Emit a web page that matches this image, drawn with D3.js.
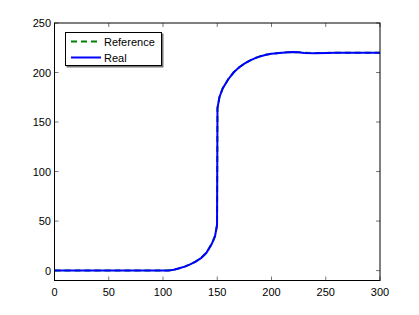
<!DOCTYPE html>
<html>
<head>
<meta charset="utf-8">
<script src="https://cdn.jsdelivr.net/npm/d3@7"></script>
<style>
  body { margin: 0; background: #fff; }
  svg text { font-family: "Liberation Sans", Arial, sans-serif; font-size: 11px; fill: #000; }
</style>
</head>
<body>
<div id="chart"></div>
<script>
// Data
const xValues = [0, 50, 100, 105, 110, 115, 120, 125, 130, 135, 140, 145, 148, 149.8, 150.2, 152, 155, 160, 165, 170, 175, 180, 185, 190, 195, 200, 210, 215, 220, 225, 230, 240, 250, 260, 300];
const realValues = [0, 0, 0, 0, 0.8, 2.3, 4, 6.2, 9, 12.5, 18, 27, 35, 46, 164, 175, 184, 193, 200, 205, 209, 212, 214.5, 216.5, 218, 219, 220, 220.5, 220.8, 220.5, 219.8, 219.5, 219.8, 220, 220];
const referenceValues = [0, 0, 0, 0, 0.8, 2.3, 4, 6.2, 9, 12.5, 18, 27, 35, 46, 164, 175, 184, 193, 200, 205, 209, 212, 214.5, 216.5, 218, 219, 220, 220.4, 220.6, 220.4, 219.9, 219.6, 219.8, 220, 220];
const xTicks = [0, 50, 100, 150, 200, 250, 300];
const yTicks = [0, 50, 100, 150, 200, 250];
const legendLabels = ["Reference", "Real"];

const width = 419, height = 315;
const plotLeft = 54.5, plotRight = 380, plotTop = 23, plotBottom = 280.5;

const x = d3.scaleLinear().domain([0, 300]).range([plotLeft, plotRight]);
const y = d3.scaleLinear().domain([-10, 250]).range([plotBottom, plotTop]);

const svg = d3.select("#chart").append("svg")
    .attr("width", width)
    .attr("height", height);

// Tick marks on all four sides, pointing inwards
const tickLen = 4;
const tickColor = "#777";
xTicks.forEach(t => {
  svg.append("line").attr("x1", x(t)).attr("x2", x(t)).attr("y1", plotBottom).attr("y2", plotBottom - tickLen)
    .attr("stroke", tickColor);
  svg.append("line").attr("x1", x(t)).attr("x2", x(t)).attr("y1", plotTop).attr("y2", plotTop + tickLen)
    .attr("stroke", tickColor);
  svg.append("text").attr("x", x(t)).attr("y", plotBottom + 15.5)
    .attr("text-anchor", "middle").text(t);
});
yTicks.forEach(t => {
  svg.append("line").attr("x1", plotLeft).attr("x2", plotLeft + tickLen).attr("y1", y(t)).attr("y2", y(t))
    .attr("stroke", tickColor);
  svg.append("line").attr("x1", plotRight).attr("x2", plotRight - tickLen).attr("y1", y(t)).attr("y2", y(t))
    .attr("stroke", tickColor);
  svg.append("text").attr("x", plotLeft - 3.5).attr("y", y(t) + 4)
    .attr("text-anchor", "end").text(t);
});

// Lines
const line = d3.line()
    .x((d, i) => x(xValues[i]))
    .y(d => y(d));

svg.append("path")
    .attr("d", line(referenceValues))
    .attr("fill", "none")
    .attr("stroke", "#008000")
    .attr("stroke-width", 2)
    .attr("stroke-dasharray", "6,4");

svg.append("path")
    .attr("d", line(realValues))
    .attr("fill", "none")
    .attr("stroke", "#0000ff")
    .attr("stroke-width", 2);

// Axes box
svg.append("rect")
    .attr("x", plotLeft).attr("y", plotTop)
    .attr("width", plotRight - plotLeft).attr("height", plotBottom - plotTop)
    .attr("fill", "none").attr("stroke", "#000").attr("stroke-width", 1);

// Legend
const lg = svg.append("g");
lg.append("rect").attr("x", 66.5).attr("y", 33.5).attr("width", 97).attr("height", 34)
  .attr("fill", "#777");
lg.append("rect").attr("x", 65.5).attr("y", 32.5).attr("width", 96).attr("height", 33)
  .attr("fill", "#fff").attr("stroke", "#000");
const colors = ["#008000", "#0000ff"];
const dashes = ["6,4", null];
legendLabels.forEach((lab, i) => {
  const ly = 41.5 + i * 16;
  lg.append("line").attr("x1", 71).attr("x2", 101).attr("y1", ly).attr("y2", ly)
    .attr("stroke", colors[i]).attr("stroke-width", 2)
    .attr("stroke-dasharray", dashes[i]);
  lg.append("text").attr("x", 104).attr("y", ly + 4).text(lab);
});
</script>
</body>
</html>
